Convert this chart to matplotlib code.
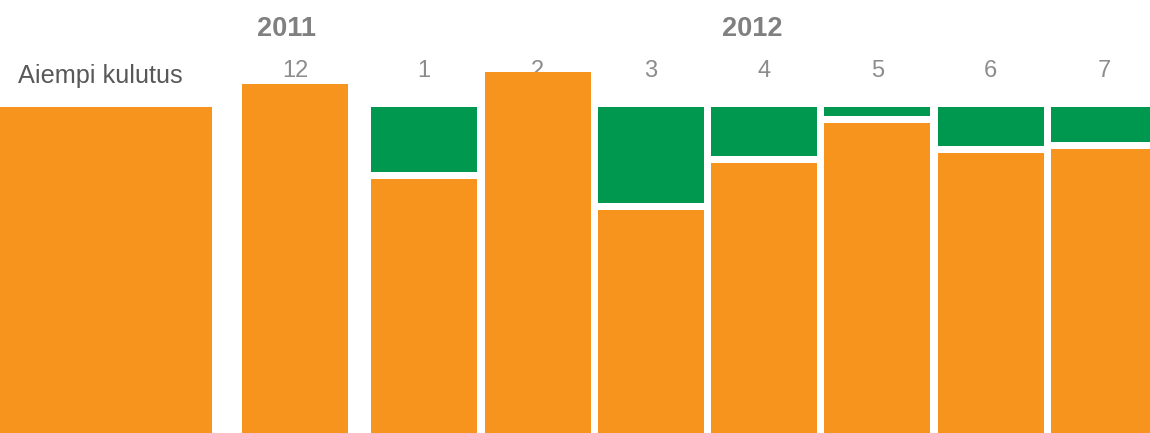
import numpy as np
import matplotlib.pyplot as plt

plt.rcParams['font.family'] = ['Liberation Sans', 'DejaVu Sans']

# Consumption relative to the earlier level (earlier level = 100)
baseline_label = 'Aiempi kulutus'
baseline = 100.0
months = ['12', '1', '2', '3', '4', '5', '6', '7']
years = ['2011', '2012', '2012', '2012', '2012', '2012', '2012', '2012']
consumption = [107.1, 77.9, 110.7, 68.4, 82.8, 95.1, 85.9, 87.1]

ORANGE = '#F7941D'
GREEN = '#00974F'
W, H = 1150, 433
PX_PER_UNIT = 3.26      # vertical scale
PITCH = 113.3           # px between month bars
BAR_W = 106
YEAR_GAP = 16
GAP = 7 / PX_PER_UNIT   # white gap between orange and green part

fig = plt.figure(figsize=(W / 100, H / 100), dpi=100)
ax = fig.add_axes([0, 0, 1, 1])
ax.set_xlim(0, W)
ax.set_ylim(0, H / PX_PER_UNIT)
ax.axis('off')

# earlier consumption bar
ax.bar(0, baseline, width=212, align='edge', color=ORANGE, zorder=2)

# month bar positions (extra gap at year change)
x = []
pos = 242
for i, y in enumerate(years):
    if i > 0 and y != years[i - 1]:
        pos += YEAR_GAP
    x.append(pos)
    pos += PITCH
x = np.array(x)

cons = np.array(consumption)
ax.bar(x, cons, width=BAR_W, align='edge', color=ORANGE, zorder=2)
saving = baseline - cons - GAP
mask = saving > 0
ax.bar(x[mask], saving[mask], bottom=cons[mask] + GAP, width=BAR_W,
       align='edge', color=GREEN, zorder=2)

# labels (under the bars)
for xi, m in zip(x, months):
    ax.text(xi + BAR_W / 2, 1 - 77 / H, m, transform=ax.get_xaxis_transform(),
            ha='center', va='baseline', fontsize=17, color='#8c8c8c', zorder=1)

ax.text(18, 1 - 83 / H, baseline_label, transform=ax.get_xaxis_transform(),
        ha='left', va='baseline', fontsize=18.2, color='#585858', zorder=1)

ax.text(286, 1 - 36 / H, '2011', transform=ax.get_xaxis_transform(),
        ha='center', va='baseline', fontsize=19.5, fontweight='bold', color='#808080')
ax.text(752, 1 - 36 / H, '2012', transform=ax.get_xaxis_transform(),
        ha='center', va='baseline', fontsize=19.5, fontweight='bold', color='#808080')

fig.savefig('out.png', dpi=100)
